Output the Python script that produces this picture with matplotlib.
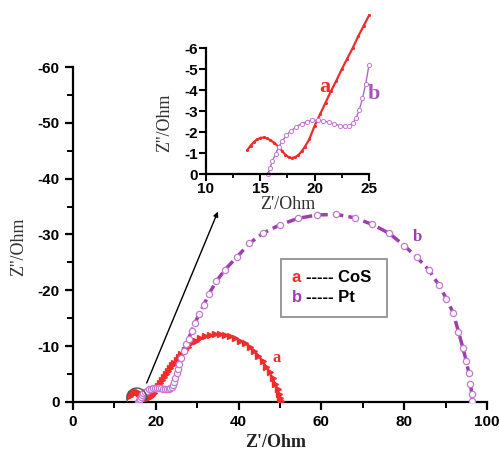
import matplotlib
matplotlib.use("Agg")
import matplotlib.pyplot as plt
from matplotlib.patches import Ellipse, Rectangle
from matplotlib.ticker import MultipleLocator

plt.rcParams["axes.unicode_minus"] = False

# a: CoS  (Z' in Ohm, Z'' in Ohm)
a_zre = [13.8, 14.1, 14.4, 14.7, 15.0, 15.3, 15.6, 15.9, 16.3, 16.6, 17.0, 17.3,
         17.6, 17.9, 18.2, 18.5, 18.8, 19.1, 19.5, 20.0, 20.5, 21.0, 21.5, 22.0,
         22.5, 23.0, 23.5, 24.0, 24.5, 25.0, 25.5, 26.2, 27.0, 27.7, 28.6, 29.6,
         30.7, 31.9, 33.1, 34.3, 35.5, 36.8, 38.0, 39.2, 40.4, 41.6, 42.7, 43.8,
         44.8, 45.8, 46.7, 47.5, 48.2, 48.8, 49.4, 49.8, 50.1, 50.3]
a_zim = [-1.14, -1.35, -1.52, -1.65, -1.72, -1.74, -1.7, -1.62, -1.48, -1.33, -1.1, -0.92,
         -0.8, -0.76, -0.8, -0.9, -1.08, -1.3, -1.65, -2.3, -2.85, -3.4, -3.95, -4.45,
         -5.0, -5.5, -6.0, -6.55, -7.05, -7.55, -8.0, -8.6, -9.25, -9.8, -10.5, -11.0,
         -11.4, -11.75, -11.95, -12.1, -12.1, -12.0, -11.8, -11.45, -11.0, -10.5, -9.9, -9.1,
         -8.3, -7.3, -6.3, -5.3, -4.3, -3.3, -2.3, -1.4, -0.7, -0.1]

# b: Pt
b_zre = [15.7, 15.9, 16.1, 16.4, 16.7, 17.0, 17.4, 17.8, 18.3, 18.8, 19.3, 19.8,
         20.3, 20.8, 21.3, 21.8, 22.3, 22.8, 23.2, 23.5, 23.8, 24.1, 24.4, 24.7,
         25.0, 25.3, 25.7, 26.2, 26.8, 27.4, 27.9, 28.7, 29.5, 30.5, 31.6, 32.8,
         34.6, 36.6, 39.5, 42.6, 45.8, 49.9, 54.4, 59.0, 63.6, 68.0, 72.3, 76.4,
         80.0, 83.1, 86.0, 88.3, 90.2, 91.8, 93.1, 94.2, 95.0, 95.6, 96.0, 96.3,
         96.4]
b_zim = [0.0, -0.3, -0.6, -0.95, -1.3, -1.55, -1.85, -2.05, -2.25, -2.4, -2.5, -2.56,
         -2.57, -2.53, -2.46, -2.38, -2.31, -2.27, -2.3, -2.42, -2.65, -3.05, -3.6, -4.3,
         -5.2, -5.9, -6.8, -7.9, -9.2, -10.4, -11.3, -12.8, -14.2, -15.8, -17.4, -19.3,
         -21.6, -23.6, -25.9, -28.4, -30.2, -31.7, -32.9, -33.5, -33.6, -33.0, -31.8, -30.2,
         -28.0, -25.9, -23.6, -21.0, -18.5, -16.0, -12.6, -9.6, -7.3, -5.2, -3.3, -1.5,
         -0.2]

red = "#f02c2c"
purple = "#9c3fac"
light_purple = "#c47ad2"

fig = plt.figure(figsize=(4.99, 4.5), dpi=100)

# main plot
ax = fig.add_axes([0.1463, 0.1067, 0.8297, 0.7444])
ax.plot(a_zre, a_zim, color=red, lw=1.5, marker=">", ms=5, mec=red, mfc=red, zorder=3)
ax.plot(b_zre, b_zim, color=purple, lw=2.5, ls=(0, (3, 1.5)), zorder=4)
ax.plot(b_zre, b_zim, ls="none", marker="o", ms=4.5, mfc="white", mec=light_purple,
        mew=0.9, zorder=5)
ax.set_xlim(0, 100)
ax.set_ylim(0, -60)
ax.xaxis.set_major_locator(MultipleLocator(20))
ax.xaxis.set_minor_locator(MultipleLocator(10))
ax.yaxis.set_major_locator(MultipleLocator(10))
ax.yaxis.set_minor_locator(MultipleLocator(5))
for s in ["top", "right"]:
    ax.spines[s].set_visible(False)
for s in ["left", "bottom"]:
    ax.spines[s].set_linewidth(1.6)
ax.tick_params(which="major", direction="out", length=6, width=1.6)
ax.tick_params(which="minor", direction="out", length=4, width=1.4)
for lab in ax.get_xticklabels() + ax.get_yticklabels():
    lab.set_fontfamily("Liberation Sans")
    lab.set_fontweight("bold")
    lab.set_fontsize(11)
ax.set_xlabel("Z'/Ohm", family="Liberation Serif", fontweight="bold", fontsize=13, color="#222222")
ax.set_ylabel("Z''/Ohm", family="Liberation Serif", fontsize=13, color="#333333")
ax.xaxis.set_label_coords(0.49, -0.095)
ax.yaxis.set_label_coords(-0.111, 0.463)

ax.text(49.2, -7.8, "a", color=red, family="Liberation Serif", fontweight="bold",
        fontsize=12, ha="center", va="center")
ax.text(83.2, -29.6, "b", color=purple, family="Liberation Serif", fontweight="bold",
        fontsize=12, ha="center", va="center")

ax.add_patch(Ellipse((15.4, -0.7), 4.8, 3.6, fill=False, ec="#555555", lw=1.0, zorder=6))
ax.annotate("", xy=(35, -34.1), xytext=(17.8, -3.4),
            arrowprops=dict(arrowstyle="-|>", color="black", lw=1.0,
                            mutation_scale=7, shrinkA=0, shrinkB=0))

# legend box
fig.add_artist(Rectangle((0.563, 0.296), 0.212, 0.129, transform=fig.transFigure,
                         fill=False, ec="#888888", lw=1.2))
fig.text(292 / 499, 1 - 277 / 450, "a", color=red, family="Liberation Sans",
         fontweight="bold", fontsize=12, va="center")
fig.text(306 / 499, 1 - 277 / 450, "----- CoS", color="black", family="Liberation Sans",
         fontweight="bold", fontsize=12, va="center")
fig.text(292 / 499, 1 - 298 / 450, "b", color=purple, family="Liberation Sans",
         fontweight="bold", fontsize=12, va="center")
fig.text(306 / 499, 1 - 298 / 450, "----- Pt", color="black", family="Liberation Sans",
         fontweight="bold", fontsize=12, va="center")

# inset
ins = fig.add_axes([0.4128, 0.6133, 0.3267, 0.28])
ia_x = [x for x in a_zre if x <= 25.05]
ia_y = a_zim[:len(ia_x)]
ib_x = [x for x in b_zre if x <= 25.05]
ib_y = b_zim[:len(ib_x)]
ins.plot(ia_x, ia_y, color=red, lw=1.6, marker=".", ms=2.5, clip_on=False)
ins.plot(ib_x, ib_y, color="#b066c0", lw=1.0, marker="o", ms=3, mfc="white",
         mec=light_purple, mew=0.7, clip_on=False)
ins.set_xlim(10, 25)
ins.set_ylim(0, -6)
ins.xaxis.set_major_locator(MultipleLocator(5))
ins.xaxis.set_minor_locator(MultipleLocator(2.5))
ins.yaxis.set_major_locator(MultipleLocator(1))
for s in ["top", "right"]:
    ins.spines[s].set_visible(False)
for s in ["left", "bottom"]:
    ins.spines[s].set_linewidth(1.6)
ins.patch.set_alpha(0)
ins.tick_params(which="major", direction="out", length=5, width=1.5, pad=1)
ins.tick_params(which="minor", direction="out", length=3, width=1.3)
for lab in ins.get_xticklabels() + ins.get_yticklabels():
    lab.set_fontfamily("Liberation Sans")
    lab.set_fontweight("bold")
    lab.set_fontsize(11)
ins.set_xlabel("Z'/Ohm", family="Liberation Serif", fontsize=13, color="#333333")
ins.set_ylabel("Z''/Ohm", family="Liberation Serif", fontsize=13, color="#333333")
ins.xaxis.set_label_coords(0.5, -0.175)
ins.yaxis.set_label_coords(-0.2, 0.41)

ins.text(20.95, -4.14, "a", color=red, family="Liberation Serif", fontweight="bold",
         fontsize=16, ha="center", va="center")
ins.text(25.45, -3.8, "b", color="#a855b8", family="Liberation Serif", fontweight="bold",
         fontsize=16, ha="center", va="center")

fig.savefig("out.png", dpi=100)
